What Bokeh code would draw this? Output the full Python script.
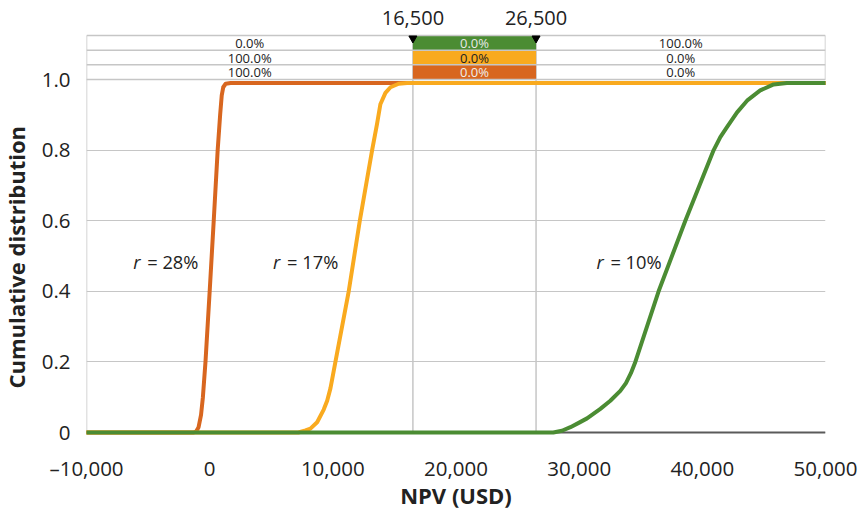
from bokeh.plotting import figure
from bokeh.models import Range1d, FixedTicker, ColumnDataSource, Title
from bokeh.core.properties import value
from bokeh.embed import file_html
from bokeh.resources import INLINE

# ---------------- data ----------------
X_TICKS = [-10000, 0, 10000, 20000, 30000, 40000, 50000]
X_TICK_LABELS = ["–10,000", "0", "10,000", "20,000", "30,000", "40,000", "50,000"]
Y_TICKS = [0, 0.2, 0.4, 0.6, 0.8, 1.0]
Y_TICK_LABELS = ["0", "0.2", "0.4", "0.6", "0.8", "1.0"]

# r = 28%
NPV_R28 = [-10000, -1300, -1100, -900, -700, -550, -340, 0, 330, 650, 850, 980, 1100, 1300, 1700, 50000]
CDF_R28 = [0, 0, 0.003, 0.015, 0.05, 0.1, 0.2, 0.4, 0.6, 0.8, 0.9, 0.955, 0.978, 0.988, 0.99, 0.99]
# r = 17%
NPV_R17 = [-10000, 7200, 7780, 8180, 8725, 9260, 9540, 9805, 9940, 10210, 11290, 12190, 13190,
           13590, 13860, 14270, 14680, 15350, 16030, 50000]
CDF_R17 = [0, 0, 0.006, 0.011, 0.029, 0.065, 0.09, 0.125, 0.15, 0.2, 0.4, 0.6, 0.8,
           0.874, 0.93, 0.962, 0.978, 0.988, 0.99, 0.99]
# r = 10%
NPV_R10 = [-10000, 26500, 27900, 28600, 29290, 30000, 30640, 31720, 32530, 33340, 33800, 34200, 34560,
           36450, 38620, 40920, 41460, 42000, 42820, 43630, 44700, 45790, 46870, 50000]
CDF_R10 = [0, 0, 0, 0.005, 0.015, 0.028, 0.04, 0.067, 0.09, 0.118, 0.14, 0.168, 0.2,
           0.4, 0.6, 0.8, 0.837, 0.865, 0.907, 0.94, 0.969, 0.986, 0.99, 0.99]

THRESHOLDS = [16500, 26500]
THRESHOLD_LABELS = ["16,500", "26,500"]

# table rows, top to bottom
ROW_SERIES = ["r = 10%", "r = 17%", "r = 28%"]
PROB_BELOW = ["0.0%", "100.0%", "100.0%"]
PROB_BETWEEN = ["0.0%", "0.0%", "0.0%"]
PROB_ABOVE = ["100.0%", "0.0%", "0.0%"]

CURVE_LABEL_R = ["r", "r", "r"]
CURVE_LABEL_REST = ["= 28%", "= 17%", "= 10%"]
CURVE_LABEL_X = [-6210, 5150, 31400]
CURVE_LABEL_Y = [0.485, 0.485, 0.485]

# ---------------- style ----------------
GREEN = "#4b8c33"
YELLOW = "#f9aa1f"
ORANGE = "#d8661f"
GRID = "#c6c6c6"
TXT = "#222222"
FONT = "Open Sans"

XMIN, XMAX = -10000, 50000
YMIN, YMAX = -0.01133, 1.2238
ROW_H = 0.04155
TABLE_BOTTOM = 1.0
TABLE_TOP = TABLE_BOTTOM + 3 * ROW_H

SHIFT = 14  # left border wider than needed, figure pulled left by the same amount
p = figure(width=863 + SHIFT, height=512, output_backend="svg", toolbar_location=None,
           x_range=Range1d(XMIN, XMAX), y_range=Range1d(YMIN, YMAX),
           min_border_left=86 + SHIFT, min_border_right=38, min_border_top=0, min_border_bottom=76,
           margin=(0, 0, 0, -SHIFT))
p.outline_line_color = None
p.background_fill_color = "white"
p.border_fill_color = "white"

# axes
p.xaxis.ticker = FixedTicker(ticks=X_TICKS)
p.xaxis.major_label_overrides = {float(t): l for t, l in zip(X_TICKS, X_TICK_LABELS)}
p.yaxis.ticker = FixedTicker(ticks=Y_TICKS)
p.yaxis.major_label_overrides = {float(t): l for t, l in zip(Y_TICKS, Y_TICK_LABELS)}
for ax in (p.xaxis, p.yaxis):
    ax.axis_line_color = None
    ax.major_tick_line_color = None
    ax.minor_tick_line_color = None
    ax.major_label_text_font = FONT
    ax.major_label_text_font_size = "20.5px"
    ax.major_label_text_color = TXT
p.xaxis.major_label_standoff = 11
p.yaxis.major_label_standoff = 10
p.xaxis.axis_label = "NPV (USD)"
p.xaxis.axis_label_text_font = FONT
p.xaxis.axis_label_text_font_size = "22px"
p.xaxis.axis_label_text_font_style = "bold"
p.xaxis.axis_label_text_color = TXT
p.xaxis.axis_label_standoff = -5

p.xgrid.grid_line_color = None
p.ygrid.grid_line_color = GRID
p.ygrid.grid_line_width = 1

# y axis title (centred on the 0..1 region, not the whole frame)
p.add_layout(Title(text="Cumulative distribution", align="left", offset=48, standoff=16,
                   text_font=FONT, text_font_size="22px", text_font_style="bold",
                   text_color=TXT), "left")

# left border / y axis line and right table border
p.segment(x0=[XMIN, XMAX], y0=[0, TABLE_BOTTOM], x1=[XMIN, XMAX], y1=[TABLE_TOP, TABLE_TOP],
          line_color=GRID, line_width=1.5)
# threshold vertical lines
p.segment(x0=THRESHOLDS, y0=[0, 0], x1=THRESHOLDS, y1=[TABLE_TOP, TABLE_TOP],
          line_color=GRID, line_width=1.5)

# table cells (coloured middle column)
row_colors = [GREEN, YELLOW, ORANGE]
row_text_colors = ["#e8e8e8", "#222222", "#eeeeee"]
bottoms = [TABLE_BOTTOM + (2 - i) * ROW_H for i in range(3)]
tops = [b + ROW_H for b in bottoms]
p.quad(left=[THRESHOLDS[0]] * 3, right=[THRESHOLDS[1]] * 3, bottom=bottoms, top=tops,
       fill_color=row_colors, line_color=None)
# table horizontal borders
levels = [TABLE_BOTTOM + k * ROW_H for k in range(4)]
p.segment(x0=[XMIN] * 4, y0=levels, x1=[XMAX] * 4, y1=levels, line_color=GRID, line_width=1.5)

mids = [(b + t) / 2 for b, t in zip(bottoms, tops)]
col_left = (XMIN + THRESHOLDS[0]) / 2
col_mid = (THRESHOLDS[0] + THRESHOLDS[1]) / 2
col_right = (THRESHOLDS[1] + XMAX) / 2
tsrc = ColumnDataSource(dict(
    x=[col_left] * 3 + [col_mid] * 3 + [col_right] * 3,
    y=mids * 3,
    text=PROB_BELOW + PROB_BETWEEN + PROB_ABOVE,
    color=[TXT] * 3 + row_text_colors + [TXT] * 3,
))
p.text(x="x", y="y", text="text", source=tsrc, text_color="color", text_align="center",
       text_baseline="middle", text_font=value(FONT), text_font_size=value("13px"))

# threshold markers and labels
p.scatter(x=THRESHOLDS, y=[TABLE_TOP - 0.008] * 2, marker="inverted_triangle", size=8,
          fill_color="black", line_color="black")
p.text(x=THRESHOLDS, y=[1.1756] * 2, text=THRESHOLD_LABELS, text_align="center",
       text_baseline="middle", text_font=value(FONT), text_font_size=value("20px"), text_color=TXT)

# x axis line
p.segment(x0=[XMIN], y0=[0], x1=[XMAX], y1=[0], line_color="#5a5a5a", line_width=2)

# curves
for xs, ys, c in ((NPV_R28, CDF_R28, ORANGE), (NPV_R17, CDF_R17, YELLOW), (NPV_R10, CDF_R10, GREEN)):
    p.line(xs, ys, line_color=c, line_width=4, line_join="round", line_cap="round")

# curve labels
p.text(x=CURVE_LABEL_X, y=CURVE_LABEL_Y, text=CURVE_LABEL_R, text_align="left",
       text_baseline="middle", text_font=value(FONT), text_font_size=value("18.3px"),
       text_font_style="italic", text_color=TXT)
p.text(x=CURVE_LABEL_X, y=CURVE_LABEL_Y, text=CURVE_LABEL_REST, text_align="left", x_offset=14,
       text_baseline="middle", text_font=value(FONT), text_font_size=value("18.3px"),
       text_color=TXT)

open("out.html", "w").write(file_html(p, INLINE))
